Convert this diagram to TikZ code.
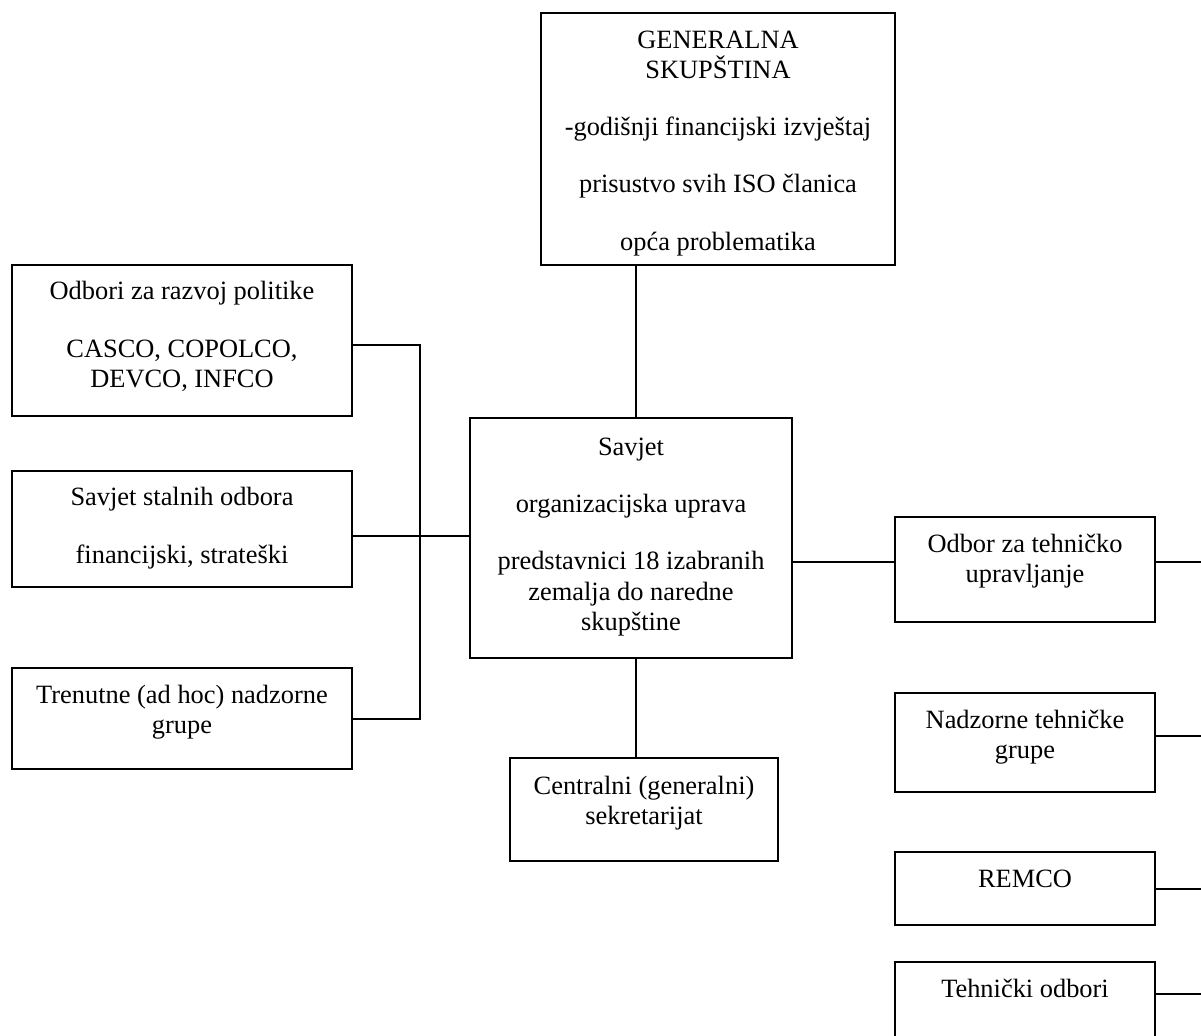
\documentclass[tikz,border=0pt]{standalone}
\usepackage{fontspec}
\setmainfont{Liberation Serif}
\usetikzlibrary{fit}
\begin{document}
\begin{tikzpicture}[x=0.4545pt,y=-0.4545pt,
  box/.style={draw=black, line width=1pt, inner sep=0pt},
  txt/.style={align=center, inner sep=0pt, anchor=base, font=\fontsize{12}{13.64}\selectfont},
  conn/.style={draw=black, line width=0.8pt}]
\useasboundingbox (0,0) rectangle (1201,1035);
\clip (0,0) rectangle (1201,1035);
% boxes
\node[box, fit={(541,13) (895,265)}] (gs) {};
\node[box, fit={(12,265) (352,416)}] (l1) {};
\node[box, fit={(12,471) (352,587)}] (l2) {};
\node[box, fit={(12,668) (352,769)}] (l3) {};
\node[box, fit={(470,418) (792,658)}] (sv) {};
\node[box, fit={(510,758) (778,861)}] (cs) {};
\node[box, fit={(895,517) (1155,622)}] (od) {};
\node[box, fit={(895,693) (1155,792)}] (nt) {};
\node[box, fit={(895,852) (1155,925)}] (rm) {};
\node[box, fit={(895,962) (1155,1080)}] (to) {};
% texts (anchored at the baseline of their last line)
\node[txt] (gst) at (718,250) {GENERALNA\\SKUPŠTINA\\[12.3pt]-godišnji financijski izvještaj\\[12.3pt]prisustvo svih ISO članica\\[12.3pt]opća problematika};
\node[txt] (l1t) at (182,387) {Odbori za razvoj politike\\[12.3pt]CASCO, COPOLCO,\\DEVCO, INFCO};
\node[txt] (l2t) at (182,563) {Savjet stalnih odbora\\[12.3pt]financijski, strateški};
\node[txt] (l3t) at (182,733) {Trenutne (ad hoc) nadzorne\\grupe};
\node[txt] (svt) at (631,630) {Savjet\\[12.3pt]organizacijska uprava\\[12.3pt]predstavnici 18 izabranih\\zemalja do naredne\\skupštine};
\node[txt] (cst) at (644,824) {Centralni (generalni)\\sekretarijat};
\node[txt] (odt) at (1025,582) {Odbor za tehničko\\upravljanje};
\node[txt] (ntt) at (1025,758) {Nadzorne tehničke\\grupe};
\node[txt] (rmt) at (1025,887) {REMCO};
\node[txt] (tot) at (1025,997) {Tehnički odbori};
% connector coordinates
\coordinate (b1) at (420,345);
\coordinate (b2) at (420,536);
\coordinate (b3) at (420,719);
\coordinate (vx) at (636,0);
\coordinate (jr) at (0,562);
\coordinate (e1) at (1210,562);
\coordinate (e2) at (1210,736);
\coordinate (e3) at (1210,889);
\coordinate (e4) at (1210,994);
% connectors
\draw[conn] (l1.east |- b1) -- (b1) -- (b3) -- (l3.east |- b3);
\draw[conn] (l2.east |- b2) -- (sv.west |- b2);
\draw[conn] (gs.south -| vx) -- (sv.north -| vx);
\draw[conn] (sv.south -| vx) -- (cs.north -| vx);
\draw[conn] (sv.east |- jr) -- (od.west |- jr);
\draw[conn] (od.east |- e1) -- (e1);
\draw[conn] (nt.east |- e2) -- (e2);
\draw[conn] (rm.east |- e3) -- (e3);
\draw[conn] (to.east |- e4) -- (e4);
\end{tikzpicture}
\end{document}
